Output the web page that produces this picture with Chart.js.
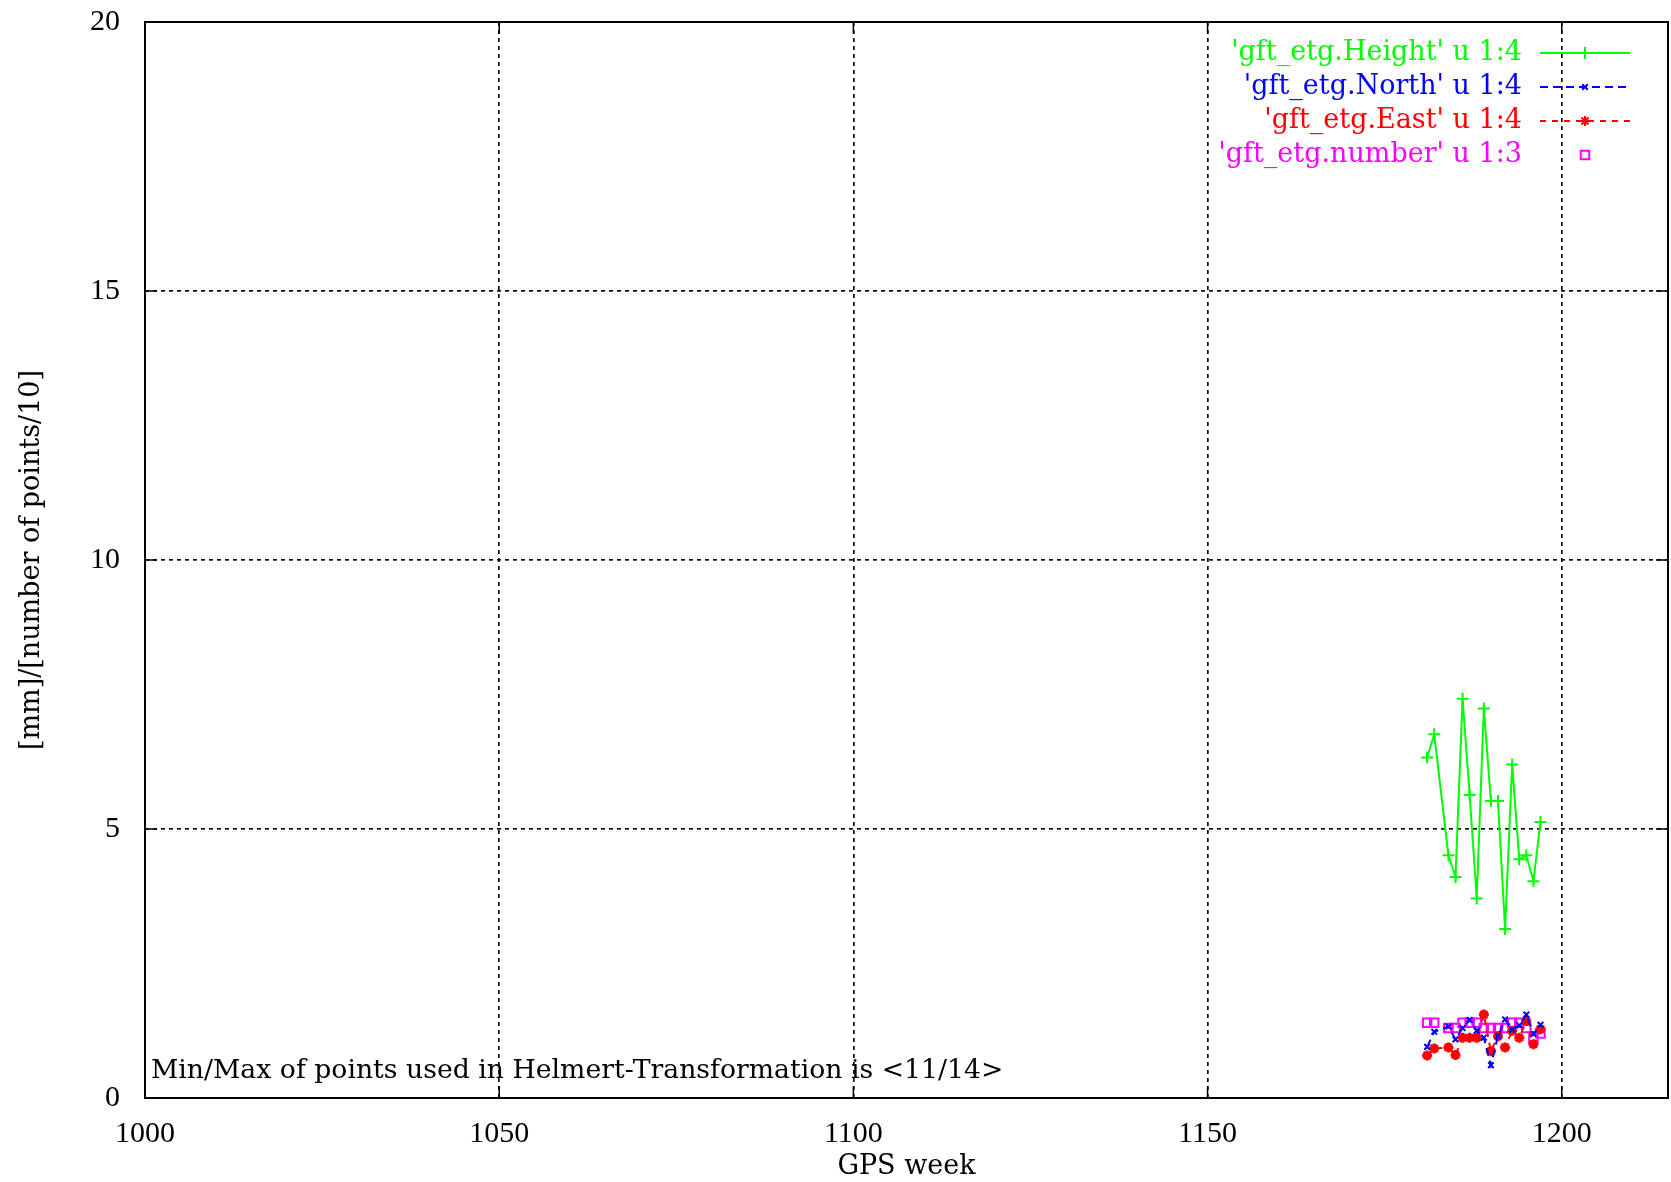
<!DOCTYPE html>
<html lang="en">
<head>
<meta charset="UTF-8">
<title>gft_etg</title>
<script src="https://cdn.jsdelivr.net/npm/chart.js"></script>
<style>
  body { margin: 0; background: #fff; }
  #chart { display: block; }
</style>
</head>
<body>
<canvas id="chart" width="1671" height="1182"></canvas>
<script>
// weekly values
const weeks = [1181, 1182, 1184, 1185, 1186, 1187, 1188, 1189, 1190, 1191, 1192, 1193, 1194, 1195, 1196, 1197];
const heightMm = [6.33, 6.76, 4.51, 4.11, 7.42, 5.63, 3.71, 7.24, 5.52, 5.52, 3.14, 6.20, 4.44, 4.51, 4.03, 5.13];
const northMm = [0.95, 1.23, 1.33, 1.09, 1.30, 1.45, 1.25, 1.12, 0.61, 1.15, 1.46, 1.27, 1.35, 1.55, 1.19, 1.36];
const eastMm = [0.79, 0.92, 0.94, 0.80, 1.12, 1.12, 1.12, 1.55, 0.87, 1.15, 0.94, 1.25, 1.12, 1.43, 1.00, 1.28];
const numberPts = [1.4, 1.4, 1.3, 1.3, 1.4, 1.4, 1.4, 1.3, 1.3, 1.3, 1.3, 1.4, 1.4, 1.3, 1.1, 1.2];
const seriesLabels = ["'gft_etg.Height' u 1:4", "'gft_etg.North' u 1:4", "'gft_etg.East' u 1:4", "'gft_etg.number' u 1:3"];
const xTicks = [1000, 1050, 1100, 1150, 1200];
const yTicks = [0, 5, 10, 15, 20];
const noteText = 'Min/Max of points used in Helmert-Transformation is <11/14>';

const FONT = '"Liberation Serif", "DejaVu Serif", serif';
const WIDE = '"DejaVu Serif", "Liberation Serif", serif';

function pts(vals) {
    return weeks.map((w, i) => ({ x: w, y: vals[i] }));
}

// frame, inward ticks, legend and note, gnuplot style
const gnuplotBits = {
    id: 'gnuplotBits',
    afterDatasetsDraw(chart) {
        const ctx = chart.ctx;
        const a = chart.chartArea;
        const xs = chart.scales.x, ys = chart.scales.y;
        ctx.save();
        ctx.strokeStyle = '#000';
        ctx.lineWidth = 1.5;
        ctx.setLineDash([]);
        ctx.beginPath();
        xTicks.forEach(v => {
            const px = xs.getPixelForValue(v);
            ctx.moveTo(px, a.bottom); ctx.lineTo(px, a.bottom - 12);
            ctx.moveTo(px, a.top); ctx.lineTo(px, a.top + 12);
        });
        yTicks.forEach(v => {
            const py = ys.getPixelForValue(v);
            ctx.moveTo(a.left, py); ctx.lineTo(a.left + 12, py);
            ctx.moveTo(a.right, py); ctx.lineTo(a.right - 12, py);
        });
        ctx.stroke();
        ctx.lineWidth = 2;
        ctx.strokeRect(a.left, a.top, a.right - a.left, a.bottom - a.top);

        // note
        ctx.font = '26.7px ' + WIDE;
        ctx.fillStyle = '#000';
        ctx.textAlign = 'left';
        ctx.textBaseline = 'alphabetic';
        ctx.fillText(noteText, a.left + 6, a.bottom - 20);

        // legend
        ctx.font = '27px ' + WIDE;
        ctx.textAlign = 'right';
        ctx.textBaseline = 'middle';
        chart.data.datasets.forEach((ds, i) => {
            const y = a.top + 31 + i * 34;
            ctx.fillStyle = ds.borderColor;
            ctx.fillText(seriesLabels[i], a.left + 1377, y);
            const x1 = a.left + 1395, x2 = a.left + 1485, xm = (x1 + x2) / 2;
            ctx.strokeStyle = ds.borderColor;
            if (ds.showLine !== false) {
                ctx.lineWidth = ds.borderWidth;
                ctx.setLineDash(ds.borderDash || []);
                ctx.beginPath();
                ctx.moveTo(x1, y); ctx.lineTo(x2, y);
                ctx.stroke();
            }
            ctx.setLineDash([]);
            ctx.fillStyle = ds.pointBackgroundColor;
            Chart.helpers.drawPoint(ctx, {
                pointStyle: ds.pointStyle,
                radius: ds.pointRadius,
                borderWidth: ds.pointBorderWidth,
                rotation: 0
            }, xm, y);
        });
        ctx.restore();
    }
};

new Chart(document.getElementById('chart'), {
    type: 'scatter',
    data: {
        datasets: [
            {
                label: seriesLabels[0],
                data: pts(heightMm),
                showLine: true,
                borderColor: '#00ff00',
                backgroundColor: '#00ff00',
                pointBackgroundColor: '#00ff00',
                borderWidth: 2,
                pointStyle: 'cross',
                pointRadius: 6,
                pointBorderWidth: 2
            },
            {
                label: seriesLabels[1],
                data: pts(northMm),
                showLine: true,
                borderColor: '#0000ff',
                backgroundColor: '#0000ff',
                pointBackgroundColor: '#0000ff',
                borderWidth: 2,
                borderDash: [8, 5],
                pointStyle: 'crossRot',
                pointRadius: 4,
                pointBorderWidth: 2
            },
            {
                label: seriesLabels[2],
                data: pts(eastMm),
                showLine: true,
                borderColor: '#ff0000',
                backgroundColor: '#ff0000',
                pointBackgroundColor: '#ff0000',
                borderWidth: 2,
                borderDash: [6, 6],
                pointStyle: 'star',
                pointRadius: 5,
                pointBorderWidth: 3
            },
            {
                label: seriesLabels[3],
                data: pts(numberPts),
                showLine: false,
                borderColor: '#ff00ff',
                backgroundColor: 'rgba(0,0,0,0)',
                pointBackgroundColor: 'rgba(0,0,0,0)',
                pointStyle: 'rect',
                pointRadius: 6,
                pointBorderWidth: 2
            }
        ]
    },
    options: {
        responsive: false,
        animation: false,
        layout: { autoPadding: false, padding: { top: 22, right: 3, left: 0, bottom: 0 } },
        plugins: {
            legend: { display: false },
            tooltip: { enabled: false }
        },
        scales: {
            x: {
                type: 'linear',
                min: 1000,
                max: 1215,
                afterFit: s => { s.height = 84; s.paddingLeft = 0; s.paddingRight = 0; },
                afterBuildTicks: s => { s.ticks = xTicks.map(v => ({ value: v })); },
                ticks: {
                    includeBounds: false,
                    padding: 18,
                    color: '#000',
                    font: { family: FONT, size: 30 },
                    callback: v => String(v)
                },
                grid: { color: '#111', lineWidth: 1.7, drawTicks: false },
                border: { display: false, dash: [4, 4] },
                title: {
                    display: true,
                    text: 'GPS week',
                    color: '#000',
                    font: { family: WIDE, size: 27, lineHeight: 1 },
                    padding: { top: 0, bottom: 2 }
                }
            },
            y: {
                min: 0,
                max: 20,
                afterFit: s => { s.width = 145; s.paddingTop = 0; s.paddingBottom = 0; },
                afterBuildTicks: s => { s.ticks = yTicks.map(v => ({ value: v })); },
                ticks: {
                    padding: 25,
                    color: '#000',
                    font: { family: FONT, size: 30 },
                    callback: v => String(v)
                },
                grid: { color: '#111', lineWidth: 1.7, drawTicks: false },
                border: { display: false, dash: [4, 4] },
                title: {
                    display: true,
                    text: '[mm]/[number of points/10]',
                    color: '#000',
                    font: { family: WIDE, size: 27, lineHeight: 1 },
                    padding: { top: 18, bottom: 0 }
                }
            }
        }
    },
    plugins: [gnuplotBits]
});
</script>
</body>
</html>
